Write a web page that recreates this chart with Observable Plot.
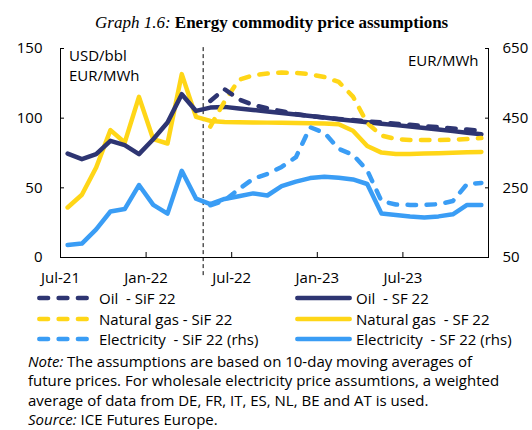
<!DOCTYPE html>
<html><head><meta charset="utf-8">
<script src="https://cdn.jsdelivr.net/npm/d3@7"></script>
<script src="https://cdn.jsdelivr.net/npm/@observablehq/plot@0.6"></script>
<style>
body{margin:0;width:532px;height:430px;position:relative;background:#fff;font-family:"Open Sans",sans-serif;color:#000;overflow:hidden}
#title{position:absolute;top:13px;left:95px;white-space:nowrap;font-family:"Liberation Serif",serif;font-size:17px;line-height:20px}
#chart{position:absolute;top:32px;left:0}
.unit{position:absolute;font-size:15px;line-height:18px}
.leg{position:absolute;font-size:15px;white-space:pre;line-height:18px}
.sw{position:absolute}
#note{position:absolute;left:28px;top:352px;font-size:15px;line-height:19.3px;white-space:nowrap}
</style></head><body>
<div id="title"><i>Graph 1.6:</i> <b>Energy commodity price assumptions</b></div>
<div id="chart"></div>
<div class="unit" style="left:69px;top:46px">USD/bbl</div>
<div class="unit" style="left:69px;top:66px">EUR/MWh</div>
<div class="unit" style="left:408px;top:51px">EUR/MWh</div>
<div id="legend"></div>
<div id="note"><i>Note:</i> The assumptions are based on 10-day moving averages of<br>future prices. For wholesale electricity price assumtions, a weighted<br>average of data from DE, FR, IT, ES, NL, BE and AT is used.<br><i>Source:</i> ICE Futures Europe.</div>
<script>
// Months (monthly points, plotted mid-month)
const months = ["2021-07","2021-08","2021-09","2021-10","2021-11","2021-12","2022-01","2022-02","2022-03","2022-04",
  "2022-05","2022-06","2022-07","2022-08","2022-09","2022-10","2022-11","2022-12","2023-01","2023-02",
  "2023-03","2023-04","2023-05","2023-06","2023-07","2023-08","2023-09","2023-10","2023-11","2023-12"];
const cutoffMonth = "2022-05";
const tickMonths = ["2021-07","2022-01","2022-07","2023-01","2023-07"];
const tickLabels = ["Jul-21","Jan-22","Jul-22","Jan-23","Jul-23"];
const leftTicks = [0, 50, 100, 150];
const rightTicks = [50, 250, 450, 650];

// Oil (USD/bbl)
const oilSF = [74.6,70.6,74.2,83.7,80.6,74.2,84.9,96.9,117.2,105.2,107.6,108.1,107.0,105.9,104.8,103.7,102.6,101.5,100.4,99.3,98.2,97.1,96.0,95.0,94.0,92.9,91.8,90.7,89.6,88.5];
const oilSiF = [null,null,null,null,null,null,null,null,null,null,112.4,120.8,113.5,109.5,107.0,105.0,103.0,101.5,100.3,99.4,98.6,97.7,96.9,96.0,95.2,94.3,93.5,92.6,91.8,90.9];
// Natural gas (EUR/MWh, lhs)
const gasSF = [35.9,45.0,64.6,91.4,82.5,115.3,84.9,81.8,131.6,100.9,98.0,97.3,97.1,96.9,96.8,96.7,96.5,96.3,96.1,95.6,91.0,80.0,75.3,74.3,74.3,74.6,74.9,75.2,75.5,75.8];
const gasSiF = [null,null,null,null,null,null,null,null,null,null,94.0,112.0,127.5,130.8,132.0,132.7,132.5,131.5,129.5,126.0,115.5,96.5,87.5,85.0,84.4,84.3,84.3,84.5,85.0,85.7];
// Electricity (EUR/MWh, rhs)
const elecSF = [86,90,131,182,189,258,201,176,299,219,203,218,226,234,228,255,268,278,282,279,274,261,176,172,168,165,168,174,201,201];
const elecSiF = [null,null,null,null,null,null,null,null,null,null,200,214,246,276,290,310,338,424,408,362,345,300,212,202,201,201,203,212,261,264];

const NAVY = "#2e3572", YEL = "#ffd617", BLUE = "#3a9df5";
const mIdx = m => months.indexOf(m) >= 0 ? months.indexOf(m) : months.length;
const rhsToLhs = v => (v - 50) / 4;
const lhsToRhs = v => v * 4 + 50;

function series(vals, conv = v => v) {
  return months.map((m, i) => ({x: i + 0.5, y: vals[i] == null ? NaN : conv(vals[i])})).filter(d => !isNaN(d.y));
}

const lw = 4.5;
const dash = {strokeDasharray: "8.5,10.5", strokeLinecap: "round"};
const plot = Plot.plot({
  width: 532, height: 260,
  marginLeft: 60, marginRight: 44, marginTop: 16, marginBottom: 35,
  style: {fontFamily: "'Open Sans', sans-serif", fontSize: "15px", color: "#000", background: "transparent"},
  x: {domain: [0, 30], axis: null},
  y: {domain: [0, 150], axis: null},
  marks: [
    Plot.ruleX([mIdx(cutoffMonth)], {y1: -13, y2: 152.5, stroke: "#000", strokeWidth: 1, strokeDasharray: "4,3", clip: false}),
    Plot.line(series(gasSF), {x: "x", y: "y", stroke: YEL, strokeWidth: lw, strokeLinejoin: "round"}),
    Plot.line(series(elecSF, rhsToLhs), {x: "x", y: "y", stroke: BLUE, strokeWidth: lw, strokeLinejoin: "round"}),
    Plot.line(series(oilSF), {x: "x", y: "y", stroke: NAVY, strokeWidth: lw, strokeLinejoin: "round"}),
    Plot.line(series(elecSiF, rhsToLhs), {x: "x", y: "y", stroke: BLUE, strokeWidth: lw, ...dash}),
    Plot.line(series(gasSiF), {x: "x", y: "y", stroke: YEL, strokeWidth: lw, ...dash}),
    Plot.line(series(oilSiF), {x: "x", y: "y", stroke: NAVY, strokeWidth: lw, ...dash}),
    // axis lines
    Plot.ruleX([0, 30], {stroke: "#000", strokeWidth: 1}),
    Plot.ruleY([0], {stroke: "#000", strokeWidth: 1}),
    // left axis
    Plot.axisY({anchor: "left", label: null, ticks: leftTicks, tickSize: 0, tickPadding: 18, fontSize: 15}),
    Plot.axisY({anchor: "left", label: null, ticks: leftTicks, tickSize: -4, text: null}),
    // right axis (rhs)
    Plot.axisY({anchor: "right", label: null, ticks: rightTicks.map(rhsToLhs), tickFormat: d => String(lhsToRhs(d)), tickSize: 0, tickPadding: 14, fontSize: 15}),
    Plot.axisY({anchor: "right", label: null, ticks: rightTicks.map(rhsToLhs), tickSize: -4, text: null}),
    // x axis
    Plot.axisX({anchor: "bottom", label: null, ticks: tickMonths.map(mIdx), tickFormat: d => tickLabels[tickMonths.map(mIdx).indexOf(d)], tickSize: 0, tickPadding: 15, fontSize: 15}),
    Plot.axisX({anchor: "bottom", label: null, ticks: tickMonths.slice(1).map(mIdx), tickSize: -5, text: null})
  ]
});
document.getElementById("chart").appendChild(plot);

// legend
const legendItems = [
  {label: "Oil  - SiF 22", color: NAVY, dashed: true, col: 0, row: 0},
  {label: "Oil  - SF 22", color: NAVY, dashed: false, col: 1, row: 0},
  {label: "Natural gas - SiF 22", color: YEL, dashed: true, col: 0, row: 1},
  {label: "Natural gas  - SF 22", color: YEL, dashed: false, col: 1, row: 1},
  {label: "Electricity  - SiF 22 (rhs)", color: BLUE, dashed: true, col: 0, row: 2},
  {label: "Electricity  - SF 22 (rhs)", color: BLUE, dashed: false, col: 1, row: 2}
];
const lg = document.getElementById("legend");
const colSw = [37, 295], colTx = [99, 356], rowY = [298, 318.5, 339];
legendItems.forEach(it => {
  const c = it.col, y = rowY[it.row];
  const sw = document.createElementNS("http://www.w3.org/2000/svg", "svg");
  sw.setAttribute("class", "sw");
  sw.setAttribute("width", 60); sw.setAttribute("height", 10);
  sw.style.left = colSw[c] + "px"; sw.style.top = (y - 5) + "px";
  const ln = document.createElementNS("http://www.w3.org/2000/svg", "line");
  const len = c === 0 ? 53 : 57;
  ln.setAttribute("x1", 2.3); ln.setAttribute("x2", len - 2.3);
  ln.setAttribute("y1", 5); ln.setAttribute("y2", 5);
  ln.setAttribute("stroke", it.color); ln.setAttribute("stroke-width", lw);
  ln.setAttribute("stroke-linecap", "round");
  if (it.dashed) ln.setAttribute("stroke-dasharray", "8.8,10.5");
  sw.appendChild(ln);
  lg.appendChild(sw);
  const tx = document.createElement("div");
  tx.className = "leg";
  tx.textContent = it.label;
  tx.style.left = colTx[c] + "px"; tx.style.top = (y - 9) + "px";
  lg.appendChild(tx);
});
</script>
</body></html>
